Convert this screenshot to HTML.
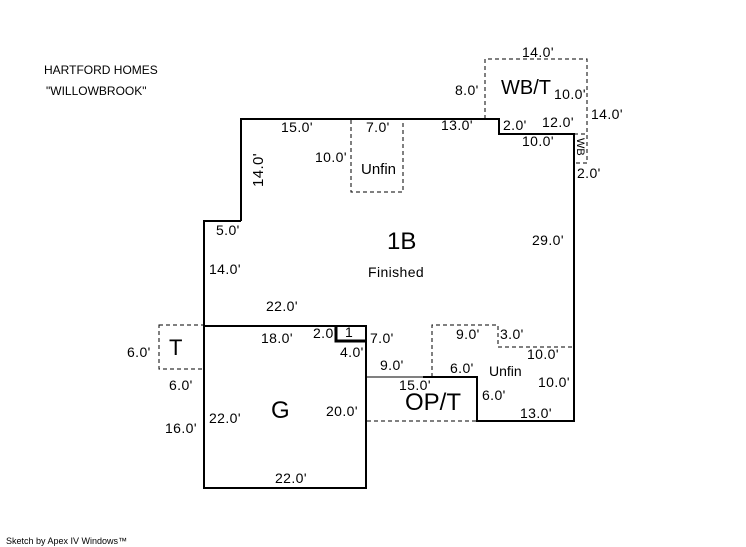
<!DOCTYPE html>
<html><head><style>body{margin:0;background:#fff}svg{display:block}text{font-family:"Liberation Sans",sans-serif;fill:#000}</style></head><body>
<svg width="746" height="547" viewBox="0 0 746 547" xmlns="http://www.w3.org/2000/svg">
<g fill="none" stroke="#000">
<polyline stroke-width="2" points="241,221 241,119 499,119 499,134 574,134 574,421 477,421 477,377 423,377"/>
<line x1="367" y1="377" x2="423" y2="377" stroke-width="1"/>
<polyline stroke-width="2" points="241,221 204,221 204,488 366,488 366,326 204,326"/>
<polyline stroke-width="3" points="336,326 336,341 366,341"/>
<g stroke-dasharray="4,3" stroke-width="1">
<rect x="159" y="325" width="45" height="44"/>
<rect x="351" y="119" width="52" height="73"/>
<polyline points="432,377 432,325 498,325 498,347 574,347"/>
<polyline points="485,119 485,59 587,59 587,163 574,163"/>
<line x1="574" y1="134" x2="587" y2="134"/>
<line x1="367" y1="421" x2="477" y2="421"/>
</g>
</g>
<g font-size="14" letter-spacing="0.4">
<text x="44" y="74" font-size="12" letter-spacing="0">HARTFORD HOMES</text>
<text x="46" y="95" font-size="12" letter-spacing="0">"WILLOWBROOK"</text>
<text x="6" y="544" font-size="9" letter-spacing="0">Sketch by Apex IV Windows™</text>
<text x="522" y="57">14.0'</text>
<text x="455" y="95">8.0'</text>
<text x="554" y="99">10.0'</text>
<text x="591" y="119">14.0'</text>
<text x="503" y="130">2.0'</text>
<text x="542" y="127">12.0'</text>
<text x="522" y="146">10.0'</text>
<text x="577" y="178">2.0'</text>
<text x="441" y="130">13.0'</text>
<text x="281" y="132">15.0'</text>
<text x="366" y="132">7.0'</text>
<text x="315" y="162">10.0'</text>
<text x="216" y="235">5.0'</text>
<text x="209" y="274">14.0'</text>
<text x="266" y="311">22.0'</text>
<text x="532" y="245">29.0'</text>
<text x="368" y="277">Finished</text>
<text x="261" y="343">18.0'</text>
<text x="313" y="338">2.0'</text>
<text x="345" y="337">1</text>
<text x="370" y="343">7.0'</text>
<text x="340" y="357">4.0'</text>
<text x="380" y="370">9.0'</text>
<text x="399" y="390">15.0'</text>
<text x="450" y="373">6.0'</text>
<text x="456" y="339">9.0'</text>
<text x="500" y="339">3.0'</text>
<text x="527" y="359">10.0'</text>
<text x="538" y="387">10.0'</text>
<text x="482" y="400">6.0'</text>
<text x="520" y="418">13.0'</text>
<text x="127" y="357">6.0'</text>
<text x="169" y="390">6.0'</text>
<text x="165" y="433">16.0'</text>
<text x="209" y="423">22.0'</text>
<text x="326" y="416">20.0'</text>
<text x="275" y="483">22.0'</text>
<text x="361" y="174" font-size="15" letter-spacing="0">Unfin</text>
<text x="489" y="376" font-size="14" letter-spacing="0">Unfin</text>
<text transform="translate(263,187) rotate(-90)" font-size="15">14.0'</text>
<text transform="translate(577,138) rotate(90)" font-size="11" letter-spacing="0">WB</text>
</g>
<g font-size="24">
<text x="501" y="94" font-size="20">WB/T</text>
<text x="387" y="249">1B</text>
<text x="169" y="355" font-size="22">T</text>
<text x="271" y="418">G</text>
<text x="405" y="410">OP/T</text>
</g>
</svg>
</body></html>
